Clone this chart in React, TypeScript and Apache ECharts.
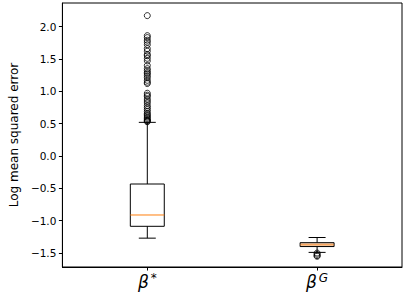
import React, { useEffect, useRef } from "react";
import * as echarts from "echarts";

const categories = ["β*", "βG"];
const labelBase = ["β", "β"];
const labelSup = ["*", "G"];
// [min whisker, Q1, median, Q3, max whisker]
const boxStats = [
  [-1.27, -1.087, -0.912, -0.433, 0.52],
  [-1.49, -1.40, -1.372, -1.34, -1.26],
];
const outliers1 = [
  2.17, 1.86, 1.83, 1.79, 1.76, 1.72, 1.66, 1.62, 1.57, 1.55, 1.51, 1.47, 1.4, 1.35,
  1.32, 1.29, 1.27, 1.24, 1.21, 1.17, 1.14, 1.12, 0.97, 0.94, 0.92, 0.88, 0.85, 0.82,
  0.78, 0.75, 0.72, 0.69, 0.66, 0.64, 0.62, 0.6, 0.58, 0.56, 0.55, 0.54, 0.53,
];
const outliers2 = [-1.5, -1.52, -1.54, -1.55];
const yTicks = [-1.5, -1.0, -0.5, 0.0, 0.5, 1.0, 1.5, 2.0];
const yMin = -1.716;
const yMax = 2.365;

export default function App() {
  const ref = useRef<HTMLDivElement>(null);
  useEffect(() => {
    const chart = echarts.init(ref.current!, null, { renderer: "svg" });
    const font = "DejaVu Sans";
    chart.setOption({
      animation: false,
      textStyle: { fontFamily: font },
      grid: {
        left: 48,
        right: 7,
        top: 3,
        bottom: 30,
        show: true,
        borderColor: "#000",
        borderWidth: 1,
        backgroundColor: "transparent",
      },
      xAxis: {
        type: "category",
        data: categories,
        boundaryGap: true,
        axisLine: { show: true, onZero: false, lineStyle: { color: "#000", width: 1 } },
        axisTick: {
          show: true,
          alignWithLabel: true,
          length: 3.5,
          lineStyle: { color: "#000" },
        },
        axisLabel: {
          margin: 5,
          formatter: (_v: string, i: number) => `{b|${labelBase[i]}}{s|${labelSup[i]}}`,
          rich: {
            b: {
              fontFamily: font,
              fontStyle: "italic",
              fontSize: 17,
              lineHeight: 20,
              color: "#000",
            },
            s: {
              fontFamily: font,
              fontStyle: "italic",
              fontSize: 12,
              lineHeight: 20,
              verticalAlign: "top",
              padding: [0, 0, 0, 2],
              color: "#000",
            },
          },
        },
        splitLine: { show: false },
      },
      yAxis: {
        type: "value",
        min: yMin,
        max: yMax,
        name: "Log mean squared error",
        nameLocation: "middle",
        nameGap: 38,
        nameTextStyle: { fontFamily: font, fontSize: 12, color: "#000" },
        axisLine: { show: true, onZero: false, lineStyle: { color: "#000", width: 1 } },
        axisTick: {
          show: true,
          length: 3.5,
          customValues: yTicks,
          lineStyle: { color: "#000" },
        },
        axisLabel: {
          customValues: yTicks,
          margin: 6,
          fontSize: 10.5,
          fontFamily: font,
          color: "#000",
          formatter: (v: number) => v.toFixed(1).replace("-", "\u2212"),
        },
        splitLine: { show: false },
      },
      series: [
        {
          type: "custom",
          data: boxStats.map((s, i) => [i, ...s]),
          encode: { x: 0, y: [1, 2, 3, 4, 5] },
          renderItem: (params: any, api: any) => {
            const idx = api.value(0);
            const bw = api.size([1, 0])[0] * 0.2;
            const cw = bw / 2;
            const pMin = api.coord([idx, api.value(1)]);
            const pQ1 = api.coord([idx, api.value(2)]);
            const pMed = api.coord([idx, api.value(3)]);
            const pQ3 = api.coord([idx, api.value(4)]);
            const pMax = api.coord([idx, api.value(5)]);
            const x = pMed[0];
            const h = pQ1[1] - pQ3[1];
            const line = { stroke: "#000", lineWidth: 1 };
            return {
              type: "group",
              children: [
                { type: "line", shape: { x1: x, y1: pQ3[1], x2: x, y2: pMax[1] }, style: line },
                { type: "line", shape: { x1: x, y1: pQ1[1], x2: x, y2: pMin[1] }, style: line },
                { type: "line", shape: { x1: x - cw / 2, y1: pMax[1], x2: x + cw / 2, y2: pMax[1] }, style: line },
                { type: "line", shape: { x1: x - cw / 2, y1: pMin[1], x2: x + cw / 2, y2: pMin[1] }, style: line },
                {
                  type: "rect",
                  shape: { x: x - bw / 2, y: pQ3[1], width: bw, height: h },
                  style: { fill: h < 6 ? "#f3c9a6" : "transparent", stroke: "#000", lineWidth: 1 },
                },
                {
                  type: "line",
                  shape: { x1: x - bw / 2, y1: pMed[1], x2: x + bw / 2, y2: pMed[1] },
                  style: { stroke: "#ff7f0e", lineWidth: 1, opacity: h < 6 ? 0.6 : 1 },
                },
              ],
            };
          },
          z: 2,
        },
        {
          type: "scatter",
          symbol: "circle",
          symbolSize: 6,
          data: [
            ...outliers1.map((v) => [0, v]),
            ...outliers2.map((v) => [1, v]),
          ],
          itemStyle: { color: "transparent", borderColor: "#000", borderWidth: 1 },
          z: 3,
        },
      ],
    });
    return () => chart.dispose();
  }, []);
  return <div ref={ref} style={{ width: 409, height: 297, position: "absolute", left: 0, top: 0 }} />;
}
